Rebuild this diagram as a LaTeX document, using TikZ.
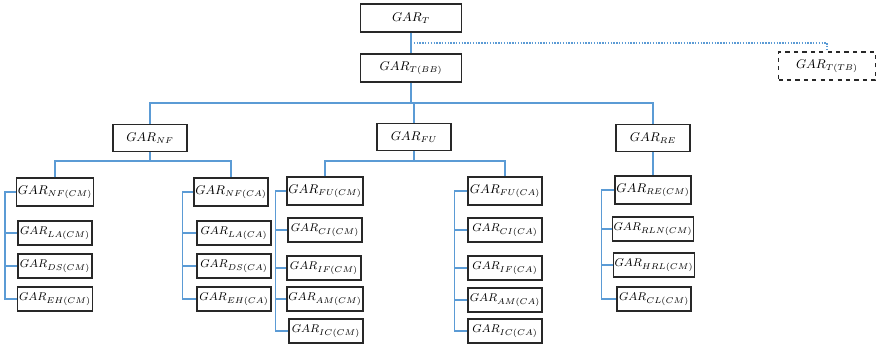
\documentclass[tikz,border=0pt]{standalone}
\usepackage{amsmath}
\usepackage{tikz}
\usetikzlibrary{positioning,calc}

\definecolor{linkblue}{RGB}{91,155,213}
\definecolor{boxgray}{RGB}{40,40,40}

\tikzset{
    gbox/.style={draw=boxgray, line width=0.9pt, inner sep=1pt, minimum width=18.5mm, minimum height=7mm, font=\small},
    topbox/.style={gbox, minimum width=25.25mm},
    midbox/.style={gbox, minimum height=6.75mm},
    leafbox/.style={gbox, minimum height=6mm, font=\footnotesize},
    tbbox/.style={topbox, dashed, minimum width=24.25mm},
    link/.style={draw=linkblue, line width=1pt},
    dotlink/.style={draw=linkblue, line width=1pt, dash pattern=on 1pt off 1pt}
}

\begin{document}
\begin{tikzpicture}[x=0.25mm,y=-0.25mm]
    % fix the page size, in pixels of the reference
    \useasboundingbox (0,0) rectangle (878,344);

    % top of the tree
    \node[topbox] (t) at (411,18) {$GAR_{T}$};
    \node[topbox] (tbb) at (411,68) {$GAR_{T(BB)}$};
    \node[tbbox] (ttb) at (827,66) {$GAR_{T(TB)}$};

    % the three groups
    \node[midbox] (nf) at (150,138) {$GAR_{NF}$};
    \node[midbox] (fu) at (414,137) {$GAR_{FU}$};
    \node[midbox] (re) at (653,138) {$GAR_{RE}$};

    % heads of the lists
    \node[gbox] (nfcm) at (55,192) {$GAR_{NF(CM)}$};
    \node[gbox] (nfca) at (231,192) {$GAR_{NF(CA)}$};
    \node[gbox] (fucm) at (325,191) {$GAR_{FU(CM)}$};
    \node[gbox] (fuca) at (505,191) {$GAR_{FU(CA)}$};
    \node[gbox] (recm) at (653,190) {$GAR_{RE(CM)}$};

    % NF, CM side
    \node[leafbox] (lacm) at (55,233) {$GAR_{LA(CM)}$};
    \node[leafbox] (dscm) at (55,266) {$GAR_{DS(CM)}$};
    \node[leafbox] (ehcm) at (55,299) {$GAR_{EH(CM)}$};

    % NF, CA side
    \node[leafbox] (laca) at (234,233) {$GAR_{LA(CA)}$};
    \node[leafbox] (dsca) at (234,266) {$GAR_{DS(CA)}$};
    \node[leafbox] (ehca) at (234,299) {$GAR_{EH(CA)}$};

    % FU, CM side
    \node[leafbox] (cicm) at (325,230) {$GAR_{CI(CM)}$};
    \node[leafbox] (ifcm) at (324,268) {$GAR_{IF(CM)}$};
    \node[leafbox] (amcm) at (325,299) {$GAR_{AM(CM)}$};
    \node[leafbox] (iccm) at (326,331) {$GAR_{IC(CM)}$};

    % FU, CA side
    \node[leafbox] (cica) at (505,230) {$GAR_{CI(CA)}$};
    \node[leafbox] (ifca) at (505,268) {$GAR_{IF(CA)}$};
    \node[leafbox] (amca) at (505,300) {$GAR_{AM(CA)}$};
    \node[leafbox] (icca) at (505,331) {$GAR_{IC(CA)}$};

    % RE, CM side
    \node[leafbox] (rlncm) at (653,229) {$GAR_{RLN(CM)}$};
    \node[leafbox] (hrlcm) at (654,265) {$GAR_{HRL(CM)}$};
    \node[leafbox] (clcm) at (654,299) {$GAR_{CL(CM)}$};

    % links of the top
    \draw[link] (t.south) -- (tbb.north);
    \draw[dotlink] ($(t.south)!0.5!(tbb.north)$) -| (ttb.north);
    \coordinate (bus) at (0,103);
    \draw[link] (tbb.south) -- (tbb.south |- bus);
    \draw[link] (nf.north) |- (bus -| re.north) -- (re.north);
    \draw[link] (fu.north) -- (fu.north |- bus);

    % links of the groups
    \draw[link] (nf.south) -- ++(0,9);
    \draw[link] (nfcm.north) |- ([yshift=-2.25mm]nf.south) -| (nfca.north);
    \draw[link] (fu.south) -- ++(0,10);
    \draw[link] (fucm.north) |- ([yshift=-2.5mm]fu.south) -| (fuca.north);
    \draw[link] (re.south) -- (recm.north);

    % brackets on the left of the lists
    \draw[link] (nfcm.west) -- ++(-11,0) |- (ehcm.west);
    \draw[link] ([xshift=-2.75mm]nfcm.west) |- (lacm.west);
    \draw[link] ([xshift=-2.75mm]nfcm.west) |- (dscm.west);

    \draw[link] (nfca.west) -- ++(-11,0) |- (ehca.west);
    \draw[link] ([xshift=-2.75mm]nfca.west) |- (laca.west);
    \draw[link] ([xshift=-2.75mm]nfca.west) |- (dsca.west);

    \draw[link] (fucm.west) -- ++(-11,0) |- (iccm.west);
    \draw[link] ([xshift=-2.75mm]fucm.west) |- (cicm.west);
    \draw[link] ([xshift=-2.75mm]fucm.west) |- (ifcm.west);
    \draw[link] ([xshift=-2.75mm]fucm.west) |- (amcm.west);

    \draw[link] (fuca.west) -- ++(-13,0) |- (icca.west);
    \draw[link] ([xshift=-3.25mm]fuca.west) |- (cica.west);
    \draw[link] ([xshift=-3.25mm]fuca.west) |- (ifca.west);
    \draw[link] ([xshift=-3.25mm]fuca.west) |- (amca.west);

    \draw[link] (recm.west) -- ++(-13,0) |- (clcm.west);
    \draw[link] ([xshift=-3.25mm]recm.west) |- (rlncm.west);
    \draw[link] ([xshift=-3.25mm]recm.west) |- (hrlcm.west);
\end{tikzpicture}
\end{document}
